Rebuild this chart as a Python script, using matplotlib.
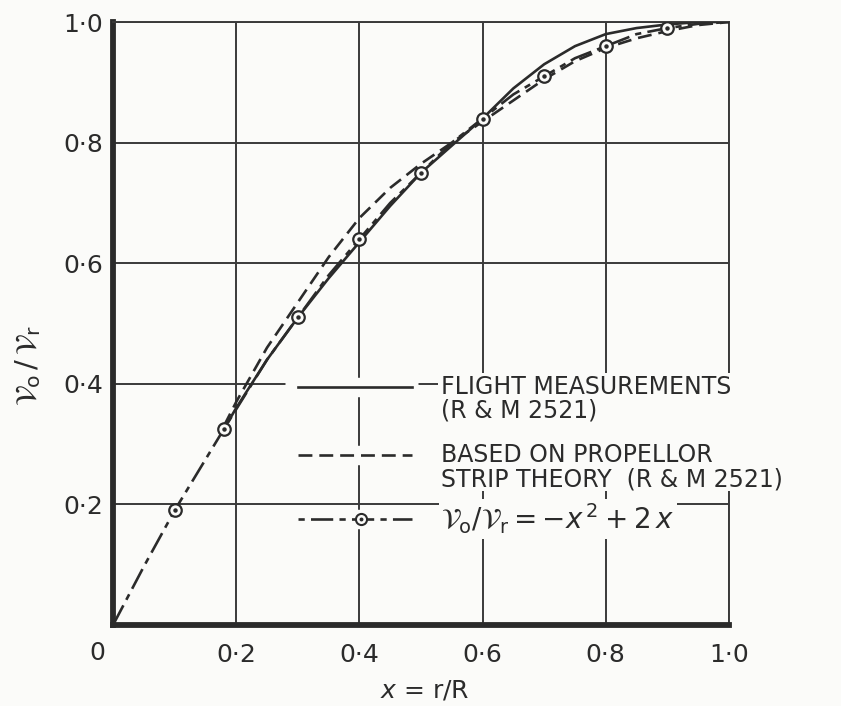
import matplotlib
matplotlib.use("Agg")
import matplotlib.pyplot as plt
from matplotlib.patches import Rectangle

# ---------------- data ----------------
flight_x = [0.18, 0.20, 0.25, 0.30, 0.35, 0.40, 0.45, 0.50, 0.55, 0.60,
            0.65, 0.70, 0.75, 0.80, 0.85, 0.90, 0.95, 1.00]
flight_y = [0.325, 0.36, 0.44, 0.51, 0.575, 0.635, 0.695, 0.75, 0.795, 0.84,
            0.89, 0.93, 0.96, 0.98, 0.99, 0.996, 1.0, 1.0]

strip_x = [0.18, 0.20, 0.25, 0.30, 0.35, 0.40, 0.45, 0.50, 0.55, 0.60,
           0.65, 0.70, 0.75, 0.80, 0.85, 0.90, 0.95, 1.00]
strip_y = [0.33, 0.37, 0.46, 0.535, 0.61, 0.675, 0.725, 0.765, 0.80, 0.835,
           0.87, 0.905, 0.935, 0.957, 0.973, 0.985, 0.995, 1.0]

curve_x = [0.0, 0.05, 0.10, 0.18, 0.25, 0.30, 0.35, 0.40, 0.45, 0.50, 0.55,
           0.60, 0.65, 0.70, 0.75, 0.80, 0.85, 0.90, 0.95, 1.00]
curve_y = [0.0, 0.097, 0.19, 0.325, 0.44, 0.51, 0.58, 0.64, 0.70, 0.75, 0.80,
           0.84, 0.88, 0.91, 0.94, 0.96, 0.98, 0.99, 0.997, 1.0]

pts_x = [0.10, 0.18, 0.30, 0.40, 0.50, 0.60, 0.70, 0.80, 0.90]
pts_y = [0.19, 0.325, 0.51, 0.64, 0.75, 0.84, 0.91, 0.96, 0.99]

xticks = [0.2, 0.4, 0.6, 0.8, 1.0]
xticklabels = ["0·2", "0·4", "0·6", "0·8", "1·0"]
yticks = [0.2, 0.4, 0.6, 0.8, 1.0]
yticklabels = ["0·2", "0·4", "0·6", "0·8", "1·0"]

legend_labels = ["FLIGHT MEASUREMENTS\n(R & M 2521)",
                 "BASED ON PROPELLOR\nSTRIP THEORY  (R & M 2521)",
                 r"$\mathcal{V}_{\mathrm{o}}/\mathcal{V}_{\mathrm{r}} = -x^{\,2} + 2\,x$"]

# ---------------- style ----------------
BG = "#fbfbf9"
INK = "#2b2b2b"
GRID = "#3a3a3a"
plt.rcParams["font.family"] = ["DejaVu Sans"]
plt.rcParams["mathtext.fontset"] = "dejavusans"
plt.rcParams["lines.scale_dashes"] = False

fig = plt.figure(figsize=(8.41, 7.06), dpi=100, facecolor=BG)
ax = fig.add_axes([0.1344, 0.1147, 0.7324, 0.8541])
ax.set_facecolor(BG)
ax.set_xlim(0, 1.0)
ax.set_ylim(0, 1.0)

ax.set_xticks(xticks)
ax.set_xticklabels(xticklabels)
ax.set_yticks(yticks)
ax.set_yticklabels(yticklabels)
ax.tick_params(length=0, labelsize=18, colors=INK)
ax.tick_params(axis="x", pad=13)
ax.tick_params(axis="y", pad=7)
ax.text(-0.026, -0.047, "0", transform=ax.transAxes, ha="center", va="center",
        fontsize=18, color=INK)

ax.grid(True, color=GRID, linewidth=1.4)
ax.set_axisbelow(True)
for s in ["top", "right"]:
    ax.spines[s].set_linewidth(1.4)
    ax.spines[s].set_color(GRID)
for s in ["left", "bottom"]:
    ax.spines[s].set_linewidth(4.2)
    ax.spines[s].set_color(INK)
    ax.spines[s].set_capstyle("projecting")

# curves
ax.plot(flight_x, flight_y, color=INK, lw=1.9, zorder=4)
ax.plot(strip_x, strip_y, color=INK, lw=1.9, dashes=(10, 5), zorder=4)
ax.plot(curve_x, curve_y, color=INK, lw=1.9, dashes=(16, 4.5, 4.5, 4.5), zorder=4)
ax.plot(pts_x, pts_y, linestyle="none", marker="o", ms=9, mfc=BG, mec=INK,
        mew=1.6, zorder=5)
ax.plot(pts_x, pts_y, linestyle="none", marker="o", ms=2.2, mfc=INK, mec=INK,
        zorder=6)

# ---------------- hand-drawn legend ----------------
row_y = [0.395, 0.282, 0.176]
sx0, sx1 = 0.30, 0.485
# mask behind the text block
ax.add_patch(Rectangle((0.528, 0.222), 0.7, 0.196, facecolor=BG, edgecolor="none",
                       zorder=3, clip_on=False))
for yy in row_y:
    ax.plot([sx0 - 0.02, sx1 + 0.01], [yy, yy], color=BG, lw=14,
            solid_capstyle="butt", zorder=3)
ax.plot([sx0, sx1], [row_y[0]] * 2, color=INK, lw=1.9, zorder=4)
ax.plot([sx0, sx1], [row_y[1]] * 2, color=INK, lw=1.9, dashes=(10, 5), zorder=4)
ax.plot([sx0, sx1], [row_y[2]] * 2, color=INK, lw=1.9,
        dashes=(4.5, 4.5, 16, 4.5), zorder=4)
ax.plot([0.402], [row_y[2]], marker="o", ms=8, mfc=BG, mec=INK, mew=1.5, zorder=5)
ax.plot([0.402], [row_y[2]], marker="o", ms=1.8, mfc=INK, mec=INK, zorder=6)

tx = 0.533
ax.text(tx, 0.375, legend_labels[0], fontsize=17, color=INK, ha="left",
        va="center", linespacing=1.0, zorder=6, clip_on=False)
ax.text(tx, 0.262, legend_labels[1], fontsize=17, color=INK, ha="left",
        va="center", linespacing=1.0, zorder=6, clip_on=False)
ax.text(tx, 0.176, legend_labels[2], fontsize=20, color=INK, ha="left",
        va="center", zorder=6, clip_on=False,
        bbox=dict(facecolor=BG, edgecolor="none", pad=2))

# axis labels
ax.text(0.506, -0.108, r"$x$ = r/R", transform=ax.transAxes, ha="center",
        va="center", fontsize=18, color=INK)
ax.text(-0.138, 0.43, r"$\mathcal{V}_{\mathrm{o}}\,/\,\mathcal{V}_{\mathrm{r}}$",
        transform=ax.transAxes, ha="center", va="center", rotation=90,
        fontsize=21, color=INK)

fig.savefig("out.png", dpi=100, facecolor=BG)
